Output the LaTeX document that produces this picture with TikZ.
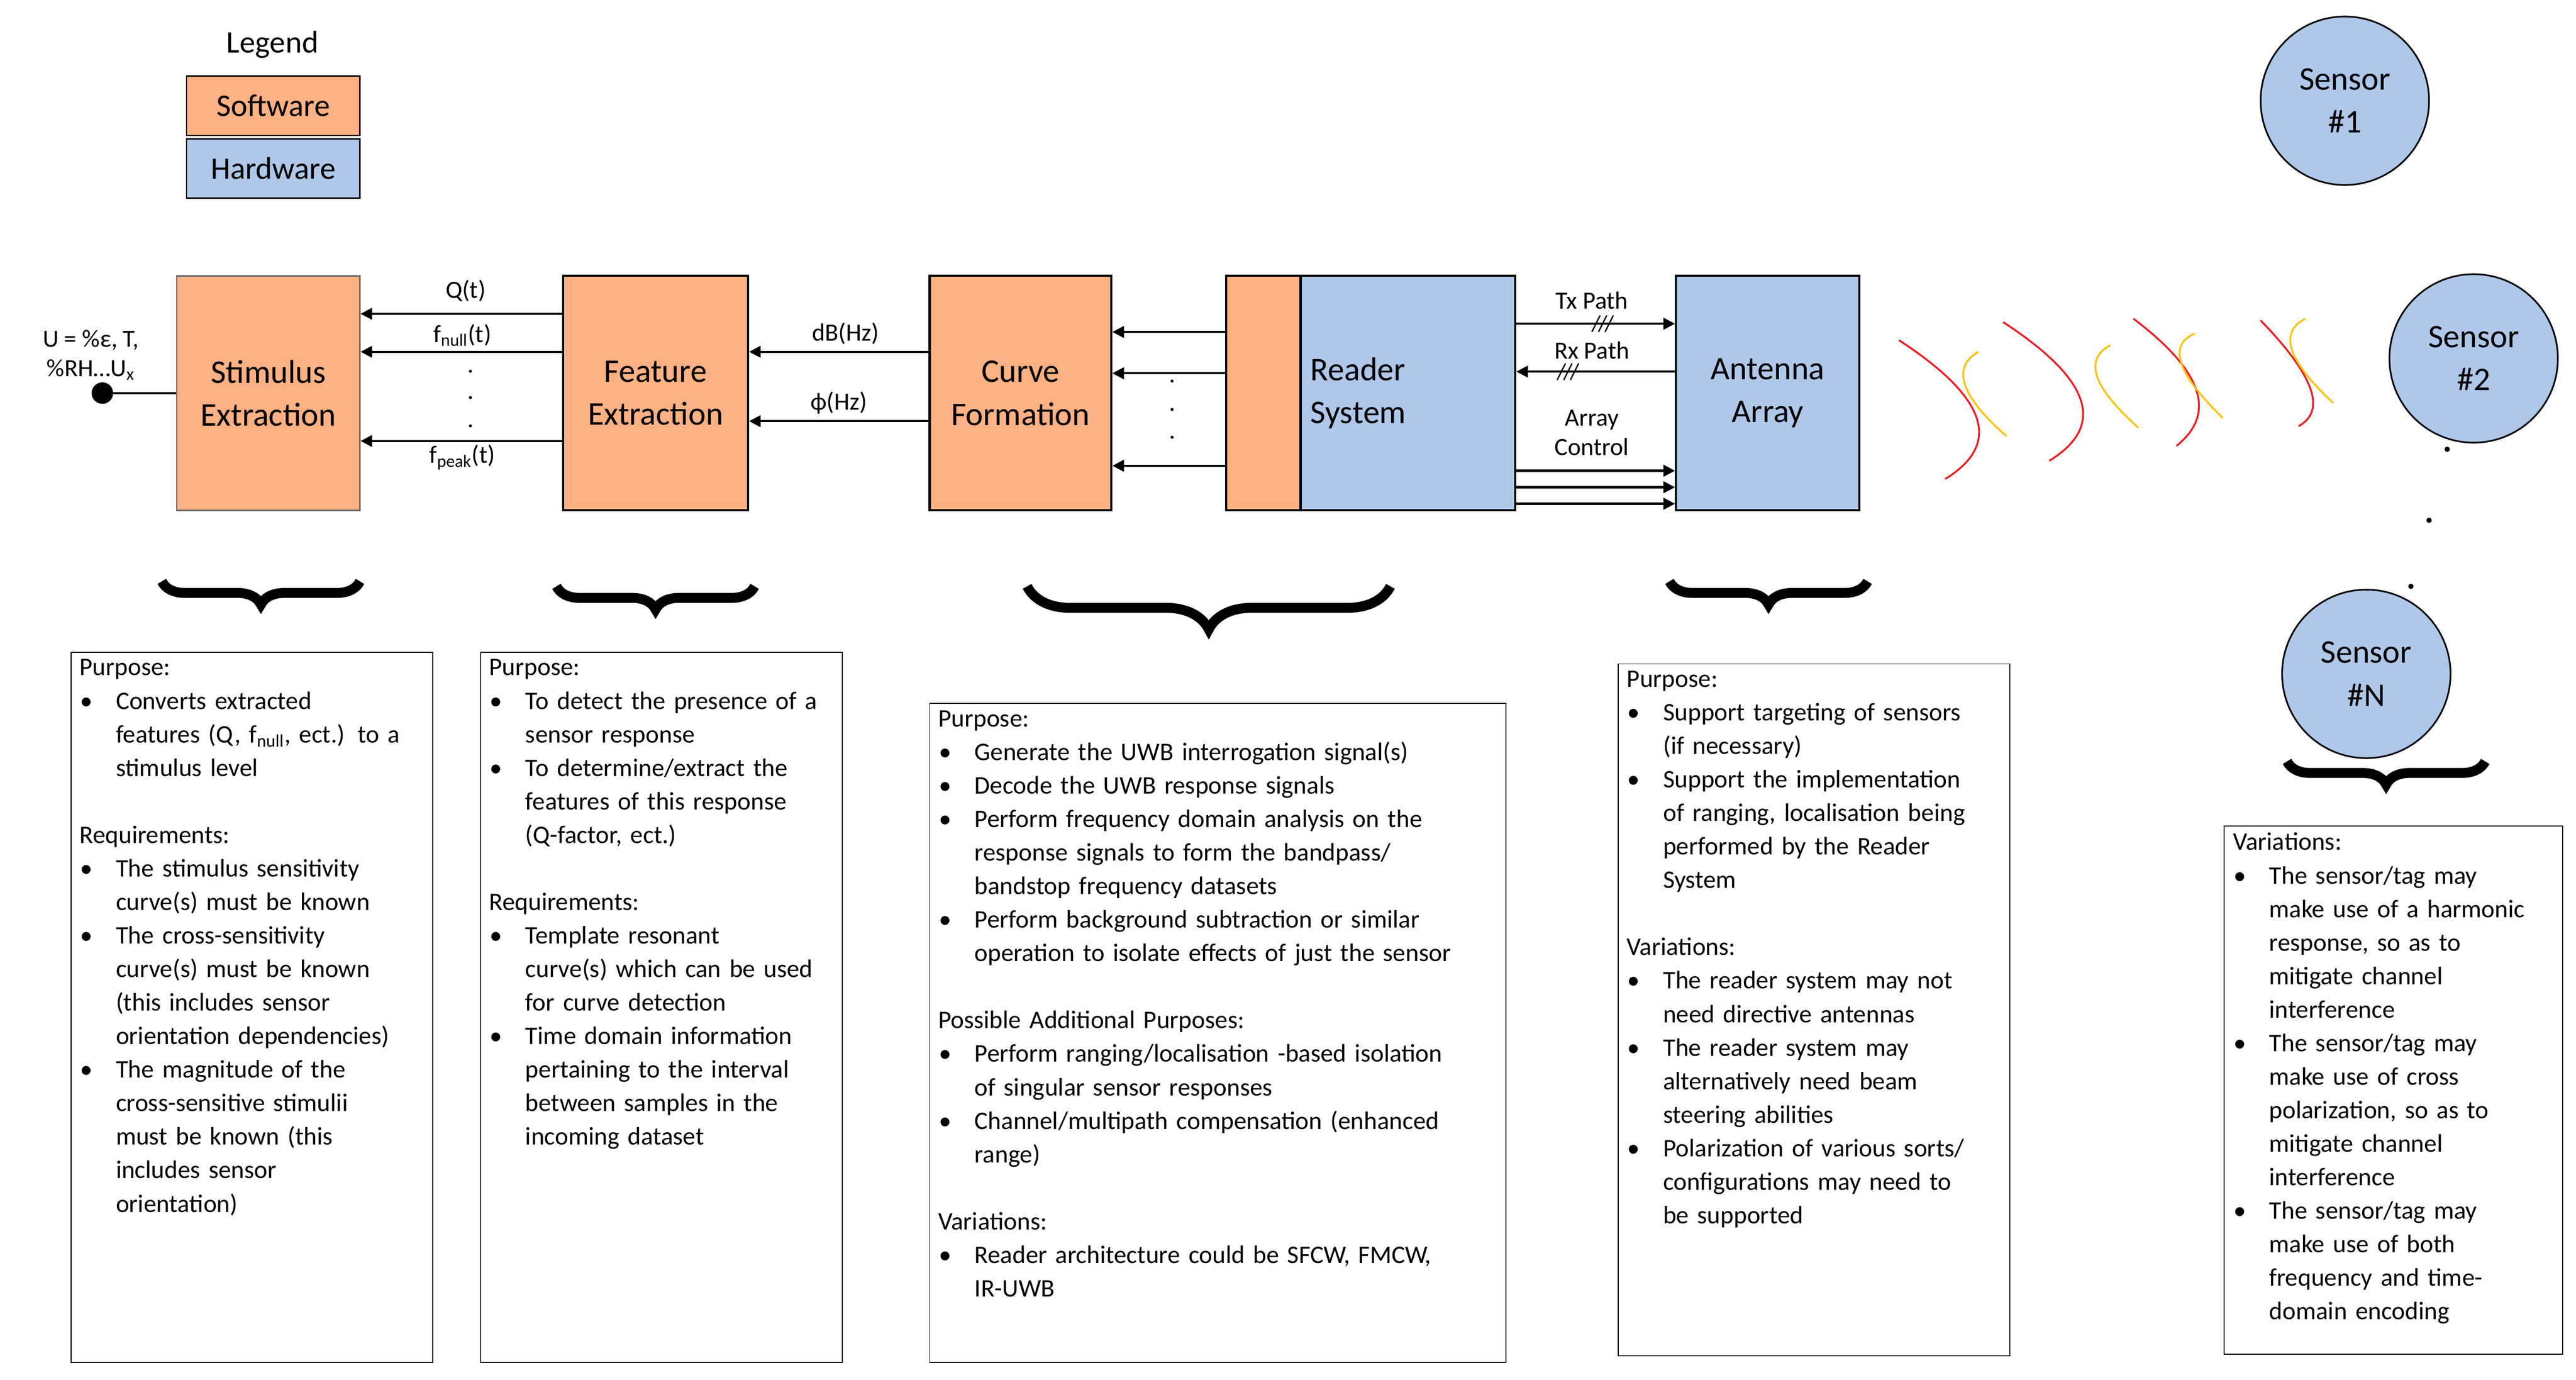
\documentclass[tikz,border=0pt]{standalone}
\usepackage{fontspec}
\setmainfont{Carlito}
\usepackage{enumitem}
\usetikzlibrary{decorations.pathreplacing,arrows.meta}
\definecolor{sw}{HTML}{FBB183}
\definecolor{hw}{HTML}{AFC7E8}
\definecolor{wred}{HTML}{EE1C24}
\definecolor{wyel}{HTML}{FFC20E}
\setlist[itemize]{leftmargin=22pt,labelsep=14pt,itemsep=0pt,topsep=0pt,parsep=0pt,partopsep=0pt,label=\textbullet}
\begin{document}
\begin{tikzpicture}[x=1pt,y=-1pt,
  blk/.style={draw=black,line width=1.3pt,minimum width=#1,minimum height=142,inner sep=0pt,font=\fontsize{20}{26}\selectfont,align=center},
  swb/.style={blk=#1,fill=sw},
  hwb/.style={blk=#1,fill=hw},
  sens/.style={circle,draw=black,line width=1pt,fill=hw,minimum size=102,inner sep=0pt,font=\fontsize{20}{26}\selectfont,align=center},
  arr/.style={line width=1.3pt,-{Triangle[length=7pt,width=7pt]}},
  lab/.style={font=\fontsize{15}{18}\selectfont,inner sep=1pt},
  txt/.style={anchor=north west,inner sep=0pt,text width=#1,align=left,font=\fontsize{15.3}{20.3}\selectfont},
  brc/.style={decorate,decoration={brace,amplitude=14pt,mirror},line width=6pt},
  dt/.style={font=\fontsize{15}{18}\selectfont},
  wave/.style={line width=1.1pt}
]
\useasboundingbox (0,0) rectangle (1560,835.3);
% legend
\node[font=\fontsize{19}{22}\selectfont] (leg) at (165,27) {Legend};
\node[draw=black,line width=0.8pt,fill=sw,minimum width=105,minimum height=36,inner sep=0pt,font=\fontsize{19}{22}\selectfont] (lsw) at (165.5,64) {Software};
\node[draw=black,line width=0.8pt,fill=hw,minimum width=105,minimum height=36,inner sep=0pt,font=\fontsize{19}{22}\selectfont] (lhw) at (165.5,102) {Hardware};
% sensors
\node[sens] (s1) at (1420,61) {Sensor\\\#1};
\node[sens] (s2) at (1498,217) {Sensor\\\#2};
\node[sens] (sn) at (1433,408) {Sensor\\\#N};
\fill (1482,272) circle (1.6) (1471,315) circle (1.6) (1460,355) circle (1.6);
% blocks
\node[swb=111,draw=black!60,line width=0.8pt] (se) at (162.5,238) {Stimulus\\Extraction};
\node[swb=112] (fe) at (397,238) {Feature\\Extraction};
\node[swb=110] (cf) at (618,238) {Curve\\Formation};
\node[swb=45,anchor=west] (ro) at (742,238) {};
\node[hwb=130,anchor=west,align=left,text width=118] (rs) at (787,238) {Reader\\System};
\node[hwb=111] (aa) at (1070.5,238) {Antenna\\Array};
% input
\coordinate (uin) at (62,238);
\fill (uin) circle (6.5);
\draw[line width=1.3pt] (uin) -- (se.west);
\node[lab,align=center] (ut) at (55,215) {U = \%ε, T,\\\%RH…U\textsubscript{x}};
% Feature -> Stimulus
\draw[arr] (fe.west|-0,190) -- (se.east|-0,190);
\draw[arr] (fe.west|-0,213) -- (se.east|-0,213);
\draw[arr] (fe.west|-0,267) -- (se.east|-0,267);
\node[lab] (lq) at (282,176) {Q(t)};
\node[lab] (lfn) at (280,203) {f\textsubscript{null}(t)};
\node[lab] (lfp) at (280,277) {f\textsubscript{peak}(t)};
\node[dt] (d1) at (285,225) {.};
\node[dt] (d2) at (285,241) {.};
\node[dt] (d3) at (285,258) {.};
% Curve -> Feature
\draw[arr] (cf.west|-0,213) -- (fe.east|-0,213);
\draw[arr] (cf.west|-0,255) -- (fe.east|-0,255);
\node[lab] (ldb) at (512,202) {dB(Hz)};
\node[lab] (lph) at (508,244) {ϕ(Hz)};
% Reader -> Curve
\draw[arr] (ro.west|-0,201) -- (cf.east|-0,201);
\draw[arr] (ro.west|-0,226) -- (cf.east|-0,226);
\draw[arr] (ro.west|-0,282) -- (cf.east|-0,282);
\node[dt] (d4) at (710,231) {.};
\node[dt] (d5) at (710,248) {.};
\node[dt] (d6) at (710,265) {.};
% Reader <-> Antenna
\draw[arr] (rs.east|-0,196) -- (aa.west|-0,196);
\draw[line width=0.8pt] (964,201)--(969,191) (968,201)--(973,191) (972,201)--(977,191);
\node[lab] (ltx) at (964,182) {Tx Path};
\draw[arr] (aa.west|-0,225) -- (rs.east|-0,225);
\draw[line width=0.8pt] (943,230)--(948,220) (947,230)--(952,220) (951,230)--(956,220);
\node[lab] (lrx) at (964,212) {Rx Path};
\node[lab,align=center] (lac) at (964,262) {Array\\Control};
\draw[arr] (rs.east|-0,285) -- (aa.west|-0,285);
\draw[arr] (rs.east|-0,295) -- (aa.west|-0,295);
\draw[arr] (rs.east|-0,305) -- (aa.west|-0,305);
% waves
\draw[wave,wred] (1150,206) .. controls (1203.3,240.7) and (1212.7,268.7) .. (1178,290);
\draw[wave,wyel] (1198,213) .. controls (1181.7,222.7) and (1187.3,239.7) .. (1215,264);
\draw[wave,wred] (1213,195) .. controls (1266.3,229.7) and (1275.7,257.7) .. (1241,279);
\draw[wave,wyel] (1278,209) .. controls (1261.7,217.7) and (1267.3,234.3) .. (1295,259);
\draw[wave,wred] (1292,193) .. controls (1334,224.7) and (1342.6,250.3) .. (1318,270);
\draw[wave,wyel] (1329,202) .. controls (1312.7,209) and (1318.3,226) .. (1346,253);
\draw[wave,wred] (1369,194) .. controls (1401.3,227.3) and (1409,248.7) .. (1392,258);
\draw[wave,wyel] (1396,193) .. controls (1379.7,201.3) and (1385.3,218.3) .. (1413,244);
% braces
\draw[brc] (98,352) -- (218,352);
\draw[brc] (337,355) -- (457,355);
\draw[brc,decoration={amplitude=26pt,mirror}] (622,355) -- (842,355);
\draw[brc] (1011,352) -- (1131,352);
\draw[brc] (1385,461) -- (1505,461);
% info boxes
\draw[line width=0.6pt] (43,395) rectangle (262,825);
\draw[line width=0.6pt] (291,395) rectangle (510,825);
\draw[line width=0.6pt] (563,426) rectangle (912,825);
\draw[line width=0.6pt] (980,402) rectangle (1217,821);
\draw[line width=0.6pt] (1347,500) rectangle (1552,820);
\node[txt=215] (t1) at (48,399) {Purpose:
\begin{itemize}
\item Converts extracted\\ features (Q, f\textsubscript{null}, ect.) to a\\ stimulus level
\end{itemize}
\vspace{20.3pt}
Requirements:
\begin{itemize}
\item The stimulus sensitivity\\ curve(s) must be known
\item The cross-sensitivity\\ curve(s) must be known\\ (this includes sensor\\ orientation dependencies)
\item The magnitude of the\\ cross-sensitive stimulii\\ must be known (this\\ includes sensor\\ orientation)
\end{itemize}};
\node[txt=215] (t2) at (296,399) {Purpose:
\begin{itemize}
\item To detect the presence of a\\ sensor response
\item To determine/extract the\\ features of this response\\ (Q-factor, ect.)
\end{itemize}
\vspace{20.3pt}
Requirements:
\begin{itemize}
\item Template resonant\\ curve(s) which can be used\\ for curve detection
\item Time domain information\\ pertaining to the interval\\ between samples in the\\ incoming dataset
\end{itemize}};
\node[txt=345] (t3) at (568,430) {Purpose:
\begin{itemize}
\item Generate the UWB interrogation signal(s)
\item Decode the UWB response signals
\item Perform frequency domain analysis on the\\ response signals to form the bandpass/\\ bandstop frequency datasets
\item Perform background subtraction or similar\\ operation to isolate effects of just the sensor
\end{itemize}
\vspace{20.3pt}
Possible Additional Purposes:
\begin{itemize}
\item Perform ranging/localisation -based isolation\\ of singular sensor responses
\item Channel/multipath compensation (enhanced\\ range)
\end{itemize}
\vspace{20.3pt}
Variations:
\begin{itemize}
\item Reader architecture could be SFCW, FMCW,\\ IR-UWB
\end{itemize}};
\node[txt=235] (t4) at (985,406) {Purpose:
\begin{itemize}
\item Support targeting of sensors\\ (if necessary)
\item Support the implementation\\ of ranging, localisation being\\ performed by the Reader\\ System
\end{itemize}
\vspace{20.3pt}
Variations:
\begin{itemize}
\item The reader system may not\\ need directive antennas
\item The reader system may\\ alternatively need beam\\ steering abilities
\item Polarization of various sorts/\\ configurations may need to\\ be supported
\end{itemize}};
\node[txt=200] (t5) at (1352,504) {Variations:
\begin{itemize}
\item The sensor/tag may\\ make use of a harmonic\\ response, so as to\\ mitigate channel\\ interference
\item The sensor/tag may\\ make use of cross\\ polarization, so as to\\ mitigate channel\\ interference
\item The sensor/tag may\\ make use of both\\ frequency and time-\\ domain encoding
\end{itemize}};
\end{tikzpicture}
\end{document}
